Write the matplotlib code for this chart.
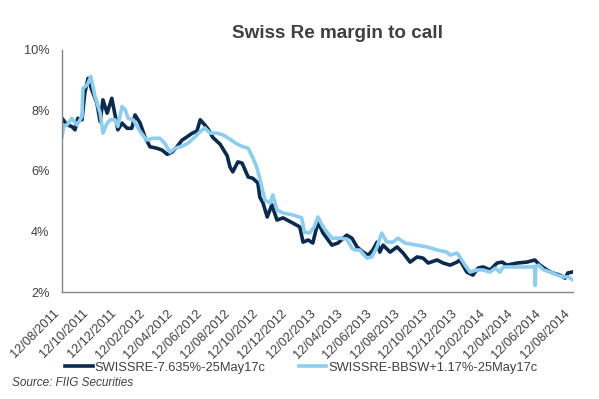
import numpy as np
import pandas as pd
import matplotlib
matplotlib.use("Agg")
from matplotlib import pyplot as plt
import matplotlib.dates as mdates
from matplotlib.ticker import FuncFormatter

# values (margin to call, %)
fixed_dates = ["2011-08-12", "2011-08-23", "2011-09-02", "2011-09-09", "2011-09-15", "2011-09-24",
               "2011-09-30", "2011-10-07", "2011-10-15", "2011-10-26", "2011-11-02", "2011-11-08",
               "2011-11-17", "2011-11-27", "2011-12-04", "2011-12-10", "2011-12-19", "2011-12-30",
               "2012-01-09", "2012-01-16", "2012-01-27", "2012-02-06", "2012-02-17", "2012-03-03",
               "2012-03-14", "2012-03-25", "2012-04-04", "2012-04-15", "2012-04-26", "2012-05-07",
               "2012-05-17", "2012-05-28", "2012-06-04", "2012-06-14", "2012-06-21", "2012-07-01",
               "2012-07-17", "2012-08-01", "2012-08-07", "2012-08-13", "2012-08-24", "2012-09-02",
               "2012-09-08", "2012-09-15", "2012-09-25", "2012-10-06", "2012-10-10", "2012-10-17",
               "2012-10-26", "2012-11-05", "2012-11-16", "2012-11-29", "2012-12-20", "2013-01-04",
               "2013-01-11", "2013-01-22", "2013-02-01", "2013-02-12", "2013-02-23", "2013-03-14",
               "2013-03-27", "2013-04-15", "2013-04-26", "2013-05-07", "2013-05-20", "2013-05-31",
               "2013-06-10", "2013-06-19", "2013-06-25", "2013-07-02", "2013-07-17", "2013-08-01",
               "2013-08-14", "2013-08-29", "2013-09-13", "2013-09-26", "2013-10-07", "2013-10-26",
               "2013-11-08", "2013-11-23", "2013-12-08", "2013-12-14", "2013-12-29", "2014-01-11",
               "2014-01-22", "2014-02-02", "2014-02-17", "2014-03-04", "2014-03-15", "2014-03-25",
               "2014-04-16", "2014-05-07", "2014-05-24", "2014-06-04", "2014-06-19", "2014-07-02",
               "2014-07-17", "2014-07-28", "2014-08-03", "2014-08-12"]
fixed_values = [7.74, 7.52, 7.47, 7.36, 7.74, 7.69,
                8.57, 9.06, 8.68, 8.24, 7.63, 8.35,
                7.91, 8.40, 7.85, 7.36, 7.58, 7.41,
                7.41, 7.85, 7.58, 7.13, 6.80, 6.75,
                6.69, 6.55, 6.62, 6.80, 7.02, 7.13,
                7.24, 7.32, 7.69, 7.52, 7.38, 7.11,
                6.88, 6.50, 6.13, 5.97, 6.30, 6.26,
                6.05, 5.80, 5.76, 5.60, 5.14, 4.94,
                4.48, 4.88, 4.38, 4.45, 4.28, 4.15,
                3.65, 3.72, 3.62, 4.31, 3.95, 3.55,
                3.62, 3.88, 3.78, 3.49, 3.32, 3.22,
                3.39, 3.65, 3.32, 3.55, 3.32, 3.49,
                3.29, 2.99, 3.16, 3.12, 2.96, 3.06,
                2.96, 2.89, 2.99, 3.06, 2.66, 2.56,
                2.79, 2.83, 2.73, 2.96, 2.99, 2.89,
                2.96, 2.99, 3.06, 2.89, 2.73, 2.63,
                2.56, 2.46, 2.63, 2.66]

float_dates = ["2011-08-12", "2011-08-16", "2011-08-23", "2011-09-02", "2011-09-13", "2011-09-24",
               "2011-09-26", "2011-10-05", "2011-10-13", "2011-10-22", "2011-11-02", "2011-11-08",
               "2011-11-17", "2011-11-24", "2011-12-04", "2011-12-10", "2011-12-19", "2011-12-26",
               "2012-01-01", "2012-01-12", "2012-01-27", "2012-02-10", "2012-02-23", "2012-03-09",
               "2012-03-20", "2012-03-31", "2012-04-11", "2012-04-26", "2012-05-09", "2012-05-24",
               "2012-06-04", "2012-06-14", "2012-06-25", "2012-07-10", "2012-07-23", "2012-08-07",
               "2012-08-22", "2012-09-04", "2012-09-15", "2012-09-25", "2012-10-04", "2012-10-10",
               "2012-10-21", "2012-11-01", "2012-11-07", "2012-11-16", "2012-11-29", "2012-12-20",
               "2013-01-08", "2013-01-14", "2013-01-25", "2013-02-04", "2013-02-12", "2013-02-23",
               "2013-03-14", "2013-03-31", "2013-04-15", "2013-04-26", "2013-05-02", "2013-05-13",
               "2013-05-28", "2013-06-08", "2013-06-19", "2013-06-29", "2013-07-10", "2013-07-23",
               "2013-08-03", "2013-08-18", "2013-09-13", "2013-10-05", "2013-10-26", "2013-11-16",
               "2013-11-23", "2013-12-08", "2013-12-14", "2013-12-25", "2014-01-05", "2014-01-20",
               "2014-02-02", "2014-02-17", "2014-02-28", "2014-03-10", "2014-03-17", "2014-04-01",
               "2014-04-23", "2014-05-14", "2014-05-23", "2014-05-25", "2014-05-26", "2014-06-01",
               "2014-06-12", "2014-06-27", "2014-07-12", "2014-07-25", "2014-08-04", "2014-08-14"]
float_values = [7.13, 7.50, 7.52, 7.74, 7.52, 7.80,
                8.73, 8.84, 9.12, 8.46, 7.91, 7.25,
                7.58, 7.69, 7.69, 7.47, 8.13, 8.02,
                7.74, 7.69, 7.30, 7.02, 7.08, 7.08,
                6.91, 6.62, 6.75, 6.82, 6.92, 7.13,
                7.30, 7.42, 7.25, 7.25, 7.19, 7.05,
                6.89, 6.80, 6.75, 6.44, 6.10, 5.75,
                5.04, 4.94, 5.21, 4.71, 4.61, 4.55,
                4.45, 3.98, 3.95, 4.15, 4.48, 4.15,
                3.78, 3.78, 3.75, 3.45, 3.39, 3.39,
                3.12, 3.16, 3.49, 3.95, 3.65, 3.65,
                3.78, 3.62, 3.55, 3.49, 3.39, 3.32,
                3.22, 3.29, 3.16, 2.89, 2.66, 2.73,
                2.73, 2.66, 2.79, 2.66, 2.83, 2.83,
                2.83, 2.83, 2.85, 2.22, 2.85, 2.89,
                2.73, 2.66, 2.56, 2.50, 2.50, 2.40]

series_names = ["SWISSRE-7.635%-25May17c", "SWISSRE-BBSW+1.17%-25May17c"]
series_colors = ["#0B2A4F", "#8DCDEE"]
y_ticks = [2, 4, 6, 8, 10]

plt.rcParams['font.family'] = ['Liberation Sans', 'DejaVu Sans']

fig = plt.figure(figsize=(5.99, 3.99), dpi=100)
ax = fig.add_axes([0.1035, 0.268, 0.853, 0.607])

ax.plot(pd.to_datetime(fixed_dates), fixed_values, color=series_colors[0], lw=2.6,
        label=series_names[0], solid_joinstyle='round')
ax.plot(pd.to_datetime(float_dates), float_values, color=series_colors[1], lw=2.6,
        label=series_names[1], solid_joinstyle='round')

ax.set_ylim(2, 10)
ax.set_yticks(y_ticks)
ax.yaxis.set_major_formatter(FuncFormatter(lambda v, p: f"{v:.0f}%"))

ax.set_xlim(pd.Timestamp("2011-08-12"), pd.Timestamp("2014-08-14"))
# every second month, on the 12th
tick_dates = pd.date_range("2011-08-01", "2014-08-01", freq="2MS") + pd.Timedelta(days=11)
ax.set_xticks(tick_dates)
ax.xaxis.set_major_formatter(mdates.DateFormatter("%d/%m/%Y"))
plt.setp(ax.get_xticklabels(), rotation=45, ha='right')

for s in ['top', 'right']:
    ax.spines[s].set_visible(False)
for s in ['left', 'bottom']:
    ax.spines[s].set_color('#868686')
    ax.spines[s].set_linewidth(1.0)
ax.tick_params(axis='both', length=0, labelsize=9.2, labelcolor='#404040')
ax.tick_params(axis='y', pad=9)
ax.tick_params(axis='x', pad=11)

fig.text(0.563, 0.917, "Swiss Re margin to call", ha='center', va='center',
         fontsize=13.6, fontweight='bold', color='#404040')

fig.legend(loc='center', bbox_to_anchor=(0.503, 0.078), ncol=2, frameon=False,
           fontsize=9.3, handlelength=2.1, handletextpad=0.15, columnspacing=2.6,
           labelcolor='#404040')

fig.text(0.02, 0.04, "Source: FIIG Securities", fontsize=8.5, style='italic',
         color='#404040', ha='left', va='center')

fig.savefig("out.png", dpi=100)
